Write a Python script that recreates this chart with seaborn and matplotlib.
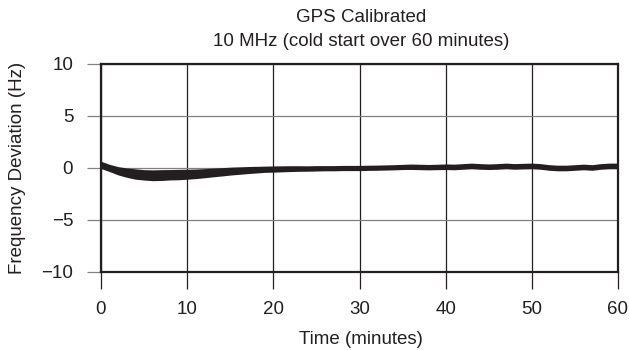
import matplotlib
matplotlib.use("Agg")
import matplotlib.pyplot as plt
import seaborn as sns
import numpy as np
import pandas as pd

# Data (per-minute estimates)
time_min = list(range(0, 61))
deviation_hz = [0.30, 0.00, -0.27, -0.45, -0.58, -0.66, -0.70, -0.68, -0.65, -0.63,
                -0.60, -0.56, -0.50, -0.43, -0.37, -0.30, -0.25, -0.20, -0.16, -0.12,
                -0.10, -0.08, -0.06, -0.05, -0.05, -0.03, -0.02, -0.02, 0.00, 0.00,
                0.00, 0.02, 0.03, 0.05, 0.07, 0.10, 0.12, 0.10, 0.08, 0.10,
                0.12, 0.10, 0.15, 0.20, 0.15, 0.12, 0.15, 0.20, 0.15, 0.18,
                0.20, 0.15, 0.05, 0.00, 0.00, 0.05, 0.10, 0.05, 0.15, 0.20,
                0.20]
band_halfwidth = [0.35, 0.35, 0.40, 0.45, 0.50, 0.50, 0.52, 0.52, 0.50, 0.50,
                  0.48, 0.46, 0.44, 0.42, 0.40, 0.38, 0.36, 0.34, 0.32, 0.30,
                  0.30, 0.29, 0.28, 0.27, 0.26, 0.26, 0.25, 0.25, 0.25, 0.25,
                  0.25, 0.25, 0.25, 0.25, 0.25, 0.25, 0.26, 0.26, 0.26, 0.26,
                  0.27, 0.27, 0.27, 0.27, 0.27, 0.27, 0.27, 0.27, 0.27, 0.27,
                  0.27, 0.27, 0.27, 0.27, 0.27, 0.27, 0.27, 0.27, 0.27, 0.27,
                  0.27]
x_ticks = [0, 10, 20, 30, 40, 50, 60]
y_ticks = [-10, -5, 0, 5, 10]
y_tick_labels = ["\u221210", "\u22125", "0", "5", "10"]

df = pd.DataFrame({"time": time_min, "dev": deviation_hz, "hw": band_halfwidth})

sns.set_style("white")
plt.rcParams["font.family"] = ["Liberation Sans", "DejaVu Sans"]
FS = 13.5
TXT = "#231f20"

fig = plt.figure(figsize=(6.29, 3.5), dpi=100)
ax = fig.add_axes([101/629, 1-272/350, 517/629, 208/350])

dark = "#231f20"
ax.fill_between(df["time"], df["dev"] - df["hw"], df["dev"] + df["hw"],
                color=dark, linewidth=0, zorder=3)
sns.lineplot(data=df, x="time", y="dev", color=dark, linewidth=1.0, ax=ax, zorder=4)

ax.set_xlim(0, 60)
ax.set_ylim(-10, 10)
ax.set_xticks(x_ticks)
ax.set_xticklabels([str(t) for t in x_ticks], fontsize=FS, color=TXT)
ax.set_yticks(y_ticks)
ax.set_yticklabels(y_tick_labels, fontsize=FS, color=TXT)

for x in x_ticks:
    ax.axvline(x, color=dark, linewidth=0.9, zorder=1)
for y in y_ticks:
    ax.axhline(y, color="#808080", linewidth=0.9, zorder=1)

ax.tick_params(axis="x", direction="out", length=12, width=0.9, color=dark, pad=9,
               bottom=True)
ax.tick_params(axis="y", direction="out", length=10, width=0.9, color="#808080", pad=10,
               left=True)

for s in ax.spines.values():
    s.set_visible(True)
    s.set_color(dark)
    s.set_linewidth(1.6)
    s.set_zorder(5)

ax.set_xlabel("Time (minutes)", fontsize=FS, color=TXT)
ax.xaxis.label.set_verticalalignment("center")
ax.xaxis.set_label_coords((361-101)/517, (272-339)/208)
ax.set_ylabel("Frequency Deviation (Hz)", fontsize=FS, color=TXT)
ax.yaxis.label.set_verticalalignment("center")
ax.yaxis.set_label_coords((18-101)/517, (272-168)/208)

fig.text(361/629, 1-18/350, "GPS Calibrated", ha="center", va="center",
         fontsize=FS, color=TXT)
fig.text(361/629, 1-42/350, "10 MHz (cold start over 60 minutes)", ha="center",
         va="center", fontsize=FS, color=TXT)

fig.savefig("out.png", dpi=100)
